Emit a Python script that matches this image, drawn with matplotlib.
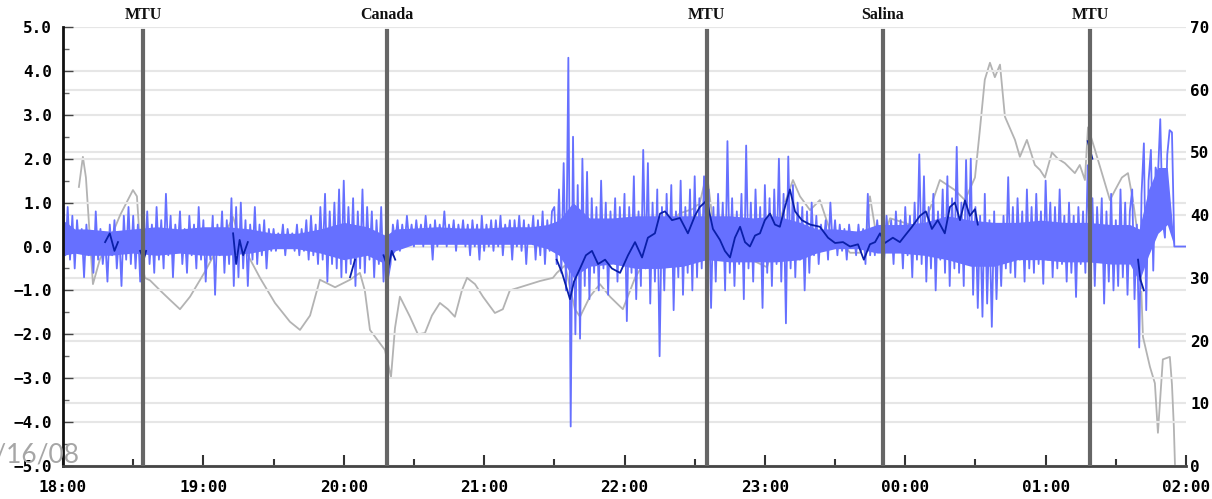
import numpy as np
import matplotlib
matplotlib.use("Agg")
import matplotlib.pyplot as plt
from matplotlib.ticker import MultipleLocator

# ---------------- data ----------------
hour_labels = ["18:00", "19:00", "20:00", "21:00", "22:00", "23:00", "00:00", "01:00", "02:00"]
event_labels = ["MTU", "Canada", "MTU", "Salina", "MTU"]
event_minutes = [34.2, 138.5, 275.2, 350.5, 439.0]   # minutes after 18:00

# light-blue signal (left axis), one value per minute after 18:00
blue_vals = [
    1.1, -0.2, 0.9, -0.3, 0.7, -0.5, 0.6, -0.1, 0.4, -0.7,
    0.5, -0.2, 0.3, -0.6, 0.8, -0.3, 0.4, -0.4, 0.2, -0.8,
    0.5, -0.2, 0.6, -0.5, 0.3, -0.9, 0.7, -0.3, 0.9, -0.4,
    0.7, -0.5, 0.5, -0.8, 0.6, -0.2, 0.8, -0.4, 0.5, -0.6,
    0.9, -0.3, 0.6, -0.5, 1.2, -0.2, 0.7, -0.7, 0.5, -0.1,
    0.8, -0.4, 0.4, -0.6, 0.7, -0.2, 0.5, -0.5, 0.9, -0.3,
    0.6, -0.8, 0.4, -0.3, 0.7, -1.1, 0.5, -0.2, 0.8, -0.6,
    0.6, -0.4, 1.1, -0.9, 0.9, -0.7, 1.0, -0.5, 0.6, -0.9,
    0.5, -0.3, 0.9, -0.4, 0.5, -0.2, 0.6, -0.5, 0.4, -0.1,
    0.4, -0.1, 0.3, 0.0, 0.5, -0.2, 0.4, 0.0, 0.3, -0.1,
    0.5, -0.2, 0.4, -0.1, 0.6, -0.3, 0.7, -0.2, 0.5, -0.4,
    0.9, -0.3, 1.2, -0.8, 0.8, -0.4, 1.0, -0.5, 1.3, -0.7,
    1.5, -0.6, 0.9, -0.4, 1.1, -0.9, 0.8, -0.5, 1.3, -0.6,
    0.9, -0.3, 0.8, -0.7, 0.6, -0.4, 0.9, -0.8, 0.3, -0.7,
    -0.4, 0.5, 0.1, 0.6, -0.1, 0.5, 0.0, 0.7, 0.1, 0.5,
    0.0, 0.6, 0.1, 0.5, 0.0, 0.7, 0.1, 0.5, -0.3, 0.6,
    0.0, 0.5, 0.1, 0.8, 0.0, 0.5, 0.1, 0.6, -0.1, 0.5,
    0.1, 0.6, 0.0, 0.5, -0.2, 0.6, 0.0, 0.5, -0.3, 0.7,
    -0.1, 0.5, 0.0, 0.6, -0.1, 0.6, 0.0, 0.7, -0.2, 0.5,
    0.1, 0.6, -0.3, 0.6, 0.0, 0.7, -0.1, 0.6, -0.4, 0.5,
    0.1, 0.7, -0.3, 0.6, -0.2, 0.8, -0.4, 0.6, -0.1, 0.8,
    0.9, -0.4, 1.3, -0.6, 1.9, -1.0, 4.3, -4.1, 2.5, -2.0,
    1.4, -2.1, 2.0, -0.9, 1.7, -1.2, 1.1, -0.6, 0.9, -1.0,
    1.5, -0.5, 1.0, -1.1, 0.8, -0.3, 1.1, -0.8, 0.9, -0.4,
    1.2, -1.7, 0.9, -0.6, 1.6, -1.2, 0.8, -0.9, 2.2, -0.5,
    1.9, -1.3, 1.0, -0.8, 1.3, -2.5, 0.9, -1.0, 1.2, -0.4,
    1.4, -1.45, 0.8, -0.7, 1.5, -1.1, 0.9, -0.6, 1.3, -1.0,
    1.6, -0.7, 1.1, -0.5, 1.6, -0.5, 1.3, -1.4, 0.9, -0.8,
    1.2, -0.3, 1.0, -1.0, 2.4, -0.6, 1.1, -0.9, 0.8, -0.4,
    1.2, -1.2, 2.3, -0.5, 1.0, -0.8, 1.3, -0.3, 0.9, -1.4,
    1.4, -0.6, 1.1, -0.9, 1.3, -0.4, 2.0, -0.8, 1.2, -1.75,
    2.05, -0.5, 1.4, -0.7, 1.0, -0.3, 0.9, -1.0, 0.8, -0.6,
    1.0, -0.2, 0.7, -0.4, 0.5, 0.0, 0.6, -0.3, 1.0, 0.0,
    0.6, -0.2, 0.5, -0.1, 0.4, -0.3, 0.5, 0.0, 0.3, -0.2,
    0.5, -0.1, 0.4, -0.4, 1.2, -0.2, 0.4, -0.2, 0.6, 0.0,
    0.5, -0.3, 0.7, 0.0, 0.6, -0.4, 0.8, -0.1, 0.6, -0.5,
    0.9, -0.2, 0.7, -0.7, 1.0, -0.3, 2.1, -0.4, 1.6, -0.8,
    0.9, -0.5, 1.2, -1.0, 0.8, -0.3, 1.3, -0.6, 1.6, -0.9,
    1.1, -0.5, 2.27, -0.6, 1.0, -0.9, 1.97, -0.4, 2.0, -1.1,
    0.9, -1.4, 0.7, -1.6, 1.2, -1.3, 0.6, -1.83, 0.8, -1.2,
    0.5, -0.9, 0.7, -0.5, 1.58, -0.6, 0.9, -0.7, 1.1, -0.3,
    0.8, -0.8, 1.3, -0.5, 0.9, -0.6, 1.2, -0.4, 0.8, -0.85,
    1.5, -0.3, 1.0, -0.7, 0.9, -0.5, 1.3, -0.4, 0.7, -0.8,
    1.0, -0.6, 0.7, -1.15, 0.9, -0.4, 0.8, -0.6, 1.85, -0.5,
    1.1, -0.9, 0.9, -0.3, 1.1, -1.3, 0.8, -0.8, 1.2, -1.0,
    0.6, -0.9, 1.3, -0.7, 1.0, -1.1, 0.8, 1.3, -1.2, 0.5,
    -2.3, 1.2, 2.35, -1.45, 1.5, 2.2, -0.55, 1.8, 1.6, 2.9,
    0.6, 0.2, 2.1, 2.65, 2.6, 0.0, 0.0, 0.0, 0.0, 0.0,
    0.0,
]

# dense core of the light-blue signal (where the trace fills solid)
band_min = [0, 5, 10, 20, 30, 40, 50, 60, 70, 80,
            90, 100, 110, 120, 130, 138, 142, 150, 160, 170,
            180, 190, 200, 207, 212, 218, 225, 235, 245, 255,
            265, 275, 285, 295, 305, 315, 322, 330, 340, 348,
            358, 368, 378, 388, 398, 408, 418, 428, 438, 448,
            456, 460, 464, 468, 472, 475]
band_lo = [-0.2, -0.15, -0.2, -0.2, -0.15, -0.2, -0.15, -0.2, -0.2, -0.15,
           -0.05, -0.05, -0.15, -0.3, -0.2, -0.4, -0.1, 0.05, 0.05, 0.05,
           0.05, 0.05, 0.05, -0.05, -0.2, -0.7, -0.45, -0.4, -0.5, -0.5,
           -0.45, -0.3, -0.35, -0.35, -0.35, -0.3, -0.15, -0.05, -0.05, -0.15,
           -0.15, -0.2, -0.3, -0.45, -0.45, -0.3, -0.3, -0.35, -0.35, -0.4,
           -0.4, -0.8, -0.2, 0.3, 0.5, 0.0]
band_hi = [0.6, 0.4, 0.4, 0.35, 0.4, 0.45, 0.4, 0.45, 0.45, 0.4,
           0.3, 0.3, 0.4, 0.55, 0.45, 0.25, 0.4, 0.42, 0.45, 0.42,
           0.42, 0.45, 0.45, 0.5, 0.6, 1.0, 0.65, 0.65, 0.7, 0.7,
           0.7, 0.7, 0.7, 0.65, 0.7, 0.55, 0.4, 0.4, 0.35, 0.5,
           0.5, 0.55, 0.7, 0.6, 0.55, 0.55, 0.6, 0.55, 0.55, 0.5,
           0.5, 0.4, 1.3, 1.8, 1.8, 0.0]

# dark-blue trace (left axis); NaN separates visible stretches
nan = float("nan")
dark_min = [18, 20, 22, 23.5, nan,
            33, 34.5, 35.5, nan,
            72.7, 74, 75.5, 77, 79, nan,
            122.7, 124.8, nan,
            137, 139, 140.5, 142, nan,
            211, 213.3, 215, 216.7, 218.4, 221, 223.5, 226.1, 228.7, 231.7,
            234.6, 238.1, 241.5, 244.5, 247.5, 250, 253, 255.2, 257.3, 260.3,
            263.7, 267.1, 270.1, 272.2, 275.2, 277.8, 280.8, 282.9, 285.1, 287.2,
            289.4, 291.5, 293.6, 295.8, 297.9, 300, 302.2, 304.3, 306.4, 308.6,
            310.7, 312.9, 315.8, 319.3, 323.5, 327, 330, 333.4, 336.4, 339.8,
            342.3, 344.9, 347.1, 349.2, 351.3, 354.7, 357.7, 359.9, 362.9, 366.3,
            368.8, 371.4, 373.9, 376.9, 379.1, 381.2, 383.4, 385.5, 387.6, 389.8,
            391, nan,
            438, 440, nan,
            459.5, 460.5, 462]
dark_val = [0.1, 0.3, -0.1, 0.1, nan,
            -0.1, -0.3, -0.1, nan,
            0.3, -0.4, 0.15, -0.2, 0.1, nan,
            -0.7, -0.3, nan,
            -0.2, -0.5, -0.1, -0.3, nan,
            -0.3, -0.6, -0.9, -1.2, -0.8, -0.5, -0.2, -0.1, -0.4, -0.3,
            -0.5, -0.6, -0.2, 0.1, -0.25, 0.2, 0.3, 0.75, 0.8, 0.6,
            0.65, 0.3, 0.7, 0.9, 1.05, 0.4, 0.15, -0.1, -0.25, 0.2,
            0.45, 0.1, 0.0, 0.25, 0.3, 0.6, 0.75, 0.5, 0.45, 0.9,
            1.3, 0.8, 0.6, 0.5, 0.45, 0.2, 0.08, 0.1, 0.0, 0.05,
            -0.3, 0.05, 0.1, 0.3, 0.08, 0.2, 0.1, 0.25, 0.45, 0.7,
            0.8, 0.4, 0.6, 0.3, 0.9, 1.0, 0.6, 1.05, 0.7, 0.85,
            0.5, nan,
            2.4, 2.0, nan,
            -0.3, -0.75, -1.0]

# gray trace (right axis)
gray_min = [6.8, 8.5, 9.8, 12.8, 15.8, 20, 24.4, 29.9, 31.6, 33.3,
            35, 37.2, 41.5, 45.7, 50, 54.3, 60.7, 65, 69.2, 72.7,
            75.6, 79.9, 84.2, 90.6, 97, 101.3, 105.6, 109.8, 116.3, 122.7,
            126.9, 129, 131.2, 134.6, 137.6, 140.2, 141.9, 144, 148.3, 151.7,
            154.7, 157.7, 161.1, 164.5, 167.5, 170.5, 172.7, 176.1, 179.5, 184.6,
            188, 191, 195.3, 199.6, 203.9, 209.4, 211.1, 214.6, 218.8, 221,
            225.2, 229.5, 233.8, 239.3, 244.5, 250.9, 257.3, 263.7, 269.3, 272.2,
            275.2, 277.4, 280.8, 287.2, 293.6, 300.9, 304.3, 308.6, 312, 315,
            319.3, 323.5, 327.8, 332.1, 336.4, 340.6, 343.2, 344.9, 347.1, 349.2,
            353.5, 357.7, 362, 366.3, 370.6, 374.8, 381.2, 385.5, 389.8, 391.9,
            394, 396.2, 398.3, 400.5, 402.6, 406.9, 409, 412, 415.4, 417.6,
            419.7, 422.7, 425.2, 428.2, 432.5, 434.6, 436.8, 438.1, 441.1, 445.4,
            447.5, 449.7, 452.6, 455.2, 457.3, 460.3, 461.6, 464.6, 466.7, 468,
            470.1, 473.1, 474, 474.8, 475.3]
gray_val = [44.5, 49.3, 46, 29, 33, 36, 40, 44, 43, 33,
            30, 29.6, 28, 26.5, 25, 27, 31, 34, 37, 39.7,
            36, 33, 30, 26, 23, 21.7, 24, 29.7, 28.5, 29.7,
            30.8, 28, 21.7, 20, 18.5, 14.2, 22, 27, 23.8, 21,
            21.2, 24, 26, 25, 23.8, 28, 30, 29, 27, 24.4,
            25, 28, 28.5, 29, 29.5, 30, 30.8, 32, 25, 23.8,
            27, 29, 27, 25, 30, 34, 38, 40.3, 41, 42,
            46.7, 40, 33, 35, 33, 31.7, 36, 42, 45.6, 43,
            40.8, 42.4, 37.6, 36, 34, 34, 36, 43, 38, 34.4,
            39.5, 39, 38.5, 38, 41, 45.6, 44, 42.4, 46, 53.6,
            61.6, 64.3, 62, 64, 55.7, 52, 49.3, 52, 48, 47.2,
            46, 50, 49, 48.3, 46.7, 48, 45.6, 54, 50.4, 45,
            42.4, 44, 46, 46.7, 42.4, 34.5, 20.6, 15.8, 13.2, 5.3,
            17, 17.4, 13, 6.3, 0]

# ---------------- figure ----------------
plt.rcParams["font.family"] = "DejaVu Sans Mono"
plt.rcParams["font.weight"] = "bold"

W, H = 1212, 499
BLUE = "#6670ff"
fig = plt.figure(figsize=(W / 100, H / 100), dpi=100)
fig.patch.set_facecolor("white")
ax = fig.add_axes([63 / W, 1 - 466 / H, (1186 - 63) / W, (466 - 27) / H])
ax2 = ax.twinx()
ax.set_zorder(ax2.get_zorder() + 1)
ax.patch.set_visible(False)

ax.set_xlim(0, 480)
ax.set_ylim(-5, 5)
ax2.set_ylim(0, 70)

grid_kw = dict(color="#e6e6e6", lw=1.5)
ax.set_axisbelow(True)
ax.grid(axis="y", **grid_kw)
ax2.grid(axis="y", **grid_kw)
ax.grid(axis="x", visible=False)

ax2.plot(gray_min, gray_val, color="#b3b3b3", lw=1.3)
ax.fill_between(band_min, band_lo, band_hi, color=BLUE, lw=0, zorder=2)
ax.plot(np.arange(len(blue_vals)), blue_vals, color=BLUE, lw=1.3, zorder=2)
ax.plot(dark_min, dark_val, color="#0a1fa8", lw=1.3, zorder=3)

for m, lab in zip(event_minutes, event_labels):
    ax.axvline(m, ymin=0, ymax=0.99, color="#666666", lw=3, zorder=5)
    ax.text(m, 1.027, lab, transform=ax.get_xaxis_transform(), ha="center",
            va="center", family="Liberation Serif", weight="bold", fontsize=11.5,
            color="#111111")

# axes styling
ax.set_yticks(np.arange(-5, 5.01, 1.0))
ax.yaxis.set_major_formatter("{x:.1f}")
ax.yaxis.set_minor_locator(MultipleLocator(0.5))
ax.set_xticks(np.arange(0, 481, 60))
ax.set_xticklabels(hour_labels)
ax.xaxis.set_minor_locator(MultipleLocator(30))
ax.tick_params(axis="y", which="major", direction="in", length=7, width=1,
               color="#444444", labelsize=11.5, pad=8)
ax.tick_params(axis="y", which="minor", direction="in", length=4, width=1,
               color="#666666")
ax.tick_params(axis="x", which="major", direction="in", length=8, width=1.5,
               color="#333333", labelsize=11.5, pad=10)
ax.tick_params(axis="x", which="minor", direction="in", length=5, width=1.5,
               color="#333333")

ax2.set_yticks(np.arange(0, 71, 10))
ax2.tick_params(axis="y", length=0, labelsize=11.5, pad=3)

for s in ["top", "right"]:
    ax.spines[s].set_visible(False)
for s in ax2.spines.values():
    s.set_visible(False)
ax.spines["left"].set_color("#111111")
ax.spines["left"].set_linewidth(2)
ax.spines["bottom"].set_color("#444444")
ax.spines["bottom"].set_linewidth(2)

fig.text(80 / W, 1 - 463 / H, "7/16/08", ha="right", va="baseline",
         fontsize=19, color="#a6a6a6", family="Lato", weight="normal")

fig.savefig("out.png", dpi=100)
